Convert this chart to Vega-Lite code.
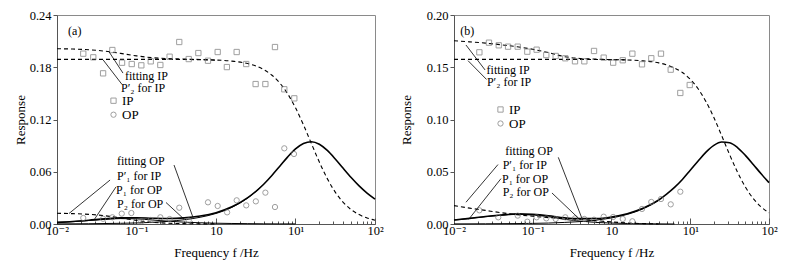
{
"$schema":"https://vega.github.io/schema/vega-lite/v6.json",
"background":"white",
"padding":{"left":13,"top":8,"right":4,"bottom":4},
"spacing":15,
"datasets":{
"ca":[
{"c":"fitIP","f":0.01,"r":0.2013},{"c":"fitIP","f":0.0158,"r":0.2009},{"c":"fitIP","f":0.0251,"r":0.2001},{"c":"fitIP","f":0.0398,"r":0.1985},{"c":"fitIP","f":0.0631,"r":0.1959},{"c":"fitIP","f":0.1,"r":0.1931},{"c":"fitIP","f":0.158,"r":0.191},{"c":"fitIP","f":0.251,"r":0.1899},{"c":"fitIP","f":0.398,"r":0.1894},{"c":"fitIP","f":0.631,"r":0.1889},{"c":"fitIP","f":1,"r":0.1883},{"c":"fitIP","f":1.585,"r":0.187},{"c":"fitIP","f":2.512,"r":0.1842},{"c":"fitIP","f":3.981,"r":0.1773},{"c":"fitIP","f":5.012,"r":0.1711},{"c":"fitIP","f":6.31,"r":0.1621},{"c":"fitIP","f":7.943,"r":0.1497},{"c":"fitIP","f":10,"r":0.1334},{"c":"fitIP","f":12.59,"r":0.1139},{"c":"fitIP","f":15.85,"r":0.0924},{"c":"fitIP","f":19.95,"r":0.0711},{"c":"fitIP","f":25.12,"r":0.0521},{"c":"fitIP","f":31.62,"r":0.0366},{"c":"fitIP","f":39.81,"r":0.0249},{"c":"fitIP","f":50.12,"r":0.0165},{"c":"fitIP","f":63.1,"r":0.0108},{"c":"fitIP","f":79.43,"r":0.0069},{"c":"fitIP","f":100,"r":0.0044},
{"c":"P2IP","f":0.01,"r":0.189},{"c":"P2IP","f":0.1,"r":0.189},{"c":"P2IP","f":0.251,"r":0.189},{"c":"P2IP","f":0.631,"r":0.1887},{"c":"P2IP","f":1,"r":0.1882},
{"c":"P1IP","f":0.01,"r":0.0123},{"c":"P1IP","f":0.0158,"r":0.0119},{"c":"P1IP","f":0.0251,"r":0.0111},{"c":"P1IP","f":0.0398,"r":0.0095},{"c":"P1IP","f":0.0631,"r":0.0069},{"c":"P1IP","f":0.1,"r":0.0041},{"c":"P1IP","f":0.158,"r":0.002},{"c":"P1IP","f":0.251,"r":0.0009},{"c":"P1IP","f":0.398,"r":0.0004},{"c":"P1IP","f":0.631,"r":0.0002},{"c":"P1IP","f":1,"r":0.0001},
{"c":"fitOP","f":0.01,"r":0.0019},{"c":"fitOP","f":0.0158,"r":0.0029},{"c":"fitOP","f":0.0251,"r":0.0043},{"c":"fitOP","f":0.0398,"r":0.0059},{"c":"fitOP","f":0.0631,"r":0.007},{"c":"fitOP","f":0.1,"r":0.0071},{"c":"fitOP","f":0.158,"r":0.0066},{"c":"fitOP","f":0.251,"r":0.0063},{"c":"fitOP","f":0.398,"r":0.007},{"c":"fitOP","f":0.631,"r":0.0091},{"c":"fitOP","f":1,"r":0.013},{"c":"fitOP","f":1.585,"r":0.0197},{"c":"fitOP","f":2.512,"r":0.0302},{"c":"fitOP","f":3.981,"r":0.0457},{"c":"fitOP","f":5.012,"r":0.0555},{"c":"fitOP","f":6.31,"r":0.0661},{"c":"fitOP","f":7.943,"r":0.0768},{"c":"fitOP","f":10,"r":0.0862},{"c":"fitOP","f":12.59,"r":0.0925},{"c":"fitOP","f":15.85,"r":0.0945},{"c":"fitOP","f":19.95,"r":0.0916},{"c":"fitOP","f":25.12,"r":0.0845},{"c":"fitOP","f":31.62,"r":0.0747},{"c":"fitOP","f":39.81,"r":0.0639},{"c":"fitOP","f":50.12,"r":0.0534},{"c":"fitOP","f":63.1,"r":0.0438},{"c":"fitOP","f":79.43,"r":0.0355},{"c":"fitOP","f":100,"r":0.0286},
{"c":"P1OP","f":0.01,"r":0.0018},{"c":"P1OP","f":0.0158,"r":0.0027},{"c":"P1OP","f":0.0251,"r":0.004},{"c":"P1OP","f":0.0398,"r":0.0054},{"c":"P1OP","f":0.0631,"r":0.0062},{"c":"P1OP","f":0.1,"r":0.0059},{"c":"P1OP","f":0.158,"r":0.0046},{"c":"P1OP","f":0.251,"r":0.0032},{"c":"P1OP","f":0.398,"r":0.0021},{"c":"P1OP","f":0.631,"r":0.0014},{"c":"P1OP","f":1,"r":0.0009},{"c":"P1OP","f":1.585,"r":0.0006},{"c":"P1OP","f":2.512,"r":0.0004},{"c":"P1OP","f":3.981,"r":0.0002},{"c":"P1OP","f":6.31,"r":0.0001},{"c":"P1OP","f":10,"r":0.0001},
{"c":"P2OP","f":0.01,"r":0.0001},{"c":"P2OP","f":0.0251,"r":0.0003},{"c":"P2OP","f":0.0631,"r":0.0008},{"c":"P2OP","f":0.1,"r":0.0012},{"c":"P2OP","f":0.158,"r":0.0019},{"c":"P2OP","f":0.251,"r":0.0031},{"c":"P2OP","f":0.398,"r":0.0049},{"c":"P2OP","f":0.631,"r":0.0077},{"c":"P2OP","f":1,"r":0.0121},{"c":"P2OP","f":1.585,"r":0.0191},{"c":"P2OP","f":2.512,"r":0.0299},{"c":"P2OP","f":3.981,"r":0.0455}
],
"cb":[
{"c":"fitIP","f":0.01,"r":0.1754},{"c":"fitIP","f":0.0158,"r":0.1743},{"c":"fitIP","f":0.0251,"r":0.1731},{"c":"fitIP","f":0.0398,"r":0.1715},{"c":"fitIP","f":0.0631,"r":0.1696},{"c":"fitIP","f":0.1,"r":0.1672},{"c":"fitIP","f":0.158,"r":0.164},{"c":"fitIP","f":0.251,"r":0.1602},{"c":"fitIP","f":0.398,"r":0.1584},{"c":"fitIP","f":0.631,"r":0.1578},{"c":"fitIP","f":1,"r":0.1573},{"c":"fitIP","f":1.585,"r":0.157},{"c":"fitIP","f":2.512,"r":0.1561},{"c":"fitIP","f":3.981,"r":0.1542},{"c":"fitIP","f":5.012,"r":0.1523},{"c":"fitIP","f":6.31,"r":0.1493},{"c":"fitIP","f":7.943,"r":0.145},{"c":"fitIP","f":10,"r":0.1385},{"c":"fitIP","f":12.59,"r":0.1294},{"c":"fitIP","f":15.85,"r":0.1171},{"c":"fitIP","f":19.95,"r":0.1019},{"c":"fitIP","f":25.12,"r":0.0844},{"c":"fitIP","f":31.62,"r":0.0664},{"c":"fitIP","f":39.81,"r":0.0496},{"c":"fitIP","f":50.12,"r":0.0354},{"c":"fitIP","f":63.1,"r":0.0244},{"c":"fitIP","f":79.43,"r":0.0163},{"c":"fitIP","f":100,"r":0.0107},
{"c":"P2IP","f":0.01,"r":0.1575},{"c":"P2IP","f":0.1,"r":0.1575},{"c":"P2IP","f":0.398,"r":0.1575},{"c":"P2IP","f":1,"r":0.1573},{"c":"P2IP","f":1.585,"r":0.157},
{"c":"P1IP","f":0.01,"r":0.0176},{"c":"P1IP","f":0.0158,"r":0.0152},{"c":"P1IP","f":0.0251,"r":0.013},{"c":"P1IP","f":0.0398,"r":0.0108},{"c":"P1IP","f":0.0631,"r":0.0089},{"c":"P1IP","f":0.1,"r":0.0074},{"c":"P1IP","f":0.158,"r":0.0061},{"c":"P1IP","f":0.251,"r":0.0052},{"c":"P1IP","f":0.398,"r":0.0045},{"c":"P1IP","f":0.631,"r":0.0032},{"c":"P1IP","f":1,"r":0.002},{"c":"P1IP","f":1.585,"r":0.001},{"c":"P1IP","f":2.512,"r":0.0004},{"c":"P1IP","f":3.981,"r":0.0001},
{"c":"fitOP","f":0.01,"r":0.0038},{"c":"fitOP","f":0.0158,"r":0.0054},{"c":"fitOP","f":0.0251,"r":0.0072},{"c":"fitOP","f":0.0398,"r":0.0086},{"c":"fitOP","f":0.0631,"r":0.0097},{"c":"fitOP","f":0.1,"r":0.0092},{"c":"fitOP","f":0.158,"r":0.0079},{"c":"fitOP","f":0.251,"r":0.006},{"c":"fitOP","f":0.398,"r":0.0051},{"c":"fitOP","f":0.631,"r":0.0052},{"c":"fitOP","f":1,"r":0.0067},{"c":"fitOP","f":1.585,"r":0.0099},{"c":"fitOP","f":2.512,"r":0.015},{"c":"fitOP","f":3.981,"r":0.023},{"c":"fitOP","f":5.012,"r":0.0286},{"c":"fitOP","f":6.31,"r":0.035},{"c":"fitOP","f":7.943,"r":0.0426},{"c":"fitOP","f":10,"r":0.0514},{"c":"fitOP","f":12.59,"r":0.0603},{"c":"fitOP","f":15.85,"r":0.0688},{"c":"fitOP","f":19.95,"r":0.0753},{"c":"fitOP","f":25.12,"r":0.0785},{"c":"fitOP","f":31.62,"r":0.0778},{"c":"fitOP","f":39.81,"r":0.0732},{"c":"fitOP","f":50.12,"r":0.0657},{"c":"fitOP","f":63.1,"r":0.057},{"c":"fitOP","f":79.43,"r":0.048},{"c":"fitOP","f":100,"r":0.0396},
{"c":"P1OP","f":0.01,"r":0.0037},{"c":"P1OP","f":0.0158,"r":0.0053},{"c":"P1OP","f":0.0251,"r":0.007},{"c":"P1OP","f":0.0398,"r":0.0084},{"c":"P1OP","f":0.0631,"r":0.0093},{"c":"P1OP","f":0.1,"r":0.0086},{"c":"P1OP","f":0.158,"r":0.007},{"c":"P1OP","f":0.251,"r":0.0045},{"c":"P1OP","f":0.398,"r":0.0028},{"c":"P1OP","f":0.631,"r":0.0015},{"c":"P1OP","f":1,"r":0.0009},{"c":"P1OP","f":1.585,"r":0.0005},{"c":"P1OP","f":2.512,"r":0.0003},{"c":"P1OP","f":3.981,"r":0.0001},{"c":"P1OP","f":6.31,"r":0.0},
{"c":"P2OP","f":0.01,"r":0.0001},{"c":"P2OP","f":0.0251,"r":0.0002},{"c":"P2OP","f":0.0631,"r":0.0004},{"c":"P2OP","f":0.1,"r":0.0006},{"c":"P2OP","f":0.158,"r":0.0009},{"c":"P2OP","f":0.251,"r":0.0015},{"c":"P2OP","f":0.398,"r":0.0023},{"c":"P2OP","f":0.631,"r":0.0037},{"c":"P2OP","f":1,"r":0.0058},{"c":"P2OP","f":1.585,"r":0.0092},{"c":"P2OP","f":2.512,"r":0.0145},{"c":"P2OP","f":3.981,"r":0.0227}
],
"pa":[
{"t":"IP","f":0.0214,"r":0.1956},{"t":"IP","f":0.0286,"r":0.1914},{"t":"IP","f":0.038,"r":0.173},{"t":"IP","f":0.0497,"r":0.1998},{"t":"IP","f":0.0658,"r":0.1852},{"t":"IP","f":0.0871,"r":0.1837},{"t":"IP","f":0.115,"r":0.1822},{"t":"IP","f":0.151,"r":0.1868},{"t":"IP","f":0.1995,"r":0.1826},{"t":"IP","f":0.261,"r":0.1921},{"t":"IP","f":0.345,"r":0.209},{"t":"IP","f":0.454,"r":0.1894},{"t":"IP","f":0.6,"r":0.1963},{"t":"IP","f":0.793,"r":0.1875},{"t":"IP","f":1.05,"r":0.1975},{"t":"IP","f":1.37,"r":0.1802},{"t":"IP","f":1.82,"r":0.1975},{"t":"IP","f":2.4,"r":0.1837},{"t":"IP","f":3.15,"r":0.1607},{"t":"IP","f":4.18,"r":0.1607},{"t":"IP","f":5.52,"r":0.2032},{"t":"IP","f":7.23,"r":0.1547},{"t":"IP","f":9.66,"r":0.1443},
{"t":"OP","f":0.0214,"r":0.0069},{"t":"OP","f":0.038,"r":0.006},{"t":"OP","f":0.0497,"r":0.0077},{"t":"OP","f":0.0652,"r":0.0119},{"t":"OP","f":0.0861,"r":0.0126},{"t":"OP","f":0.115,"r":0.003},{"t":"OP","f":0.151,"r":0.0046},{"t":"OP","f":0.1995,"r":0.0077},{"t":"OP","f":0.261,"r":0.0057},{"t":"OP","f":0.345,"r":0.0187},{"t":"OP","f":0.454,"r":0.004},{"t":"OP","f":0.793,"r":0.0249},{"t":"OP","f":1.05,"r":0.0207},{"t":"OP","f":1.38,"r":0.0134},{"t":"OP","f":1.82,"r":0.0272},{"t":"OP","f":2.4,"r":0.0214},{"t":"OP","f":3.17,"r":0.026},{"t":"OP","f":4.18,"r":0.036},{"t":"OP","f":5.52,"r":0.0195},{"t":"OP","f":7.23,"r":0.0869},{"t":"OP","f":9.57,"r":0.0804}
],
"pb":[
{"t":"IP","f":0.021,"r":0.1643},{"t":"IP","f":0.0278,"r":0.1735},{"t":"IP","f":0.037,"r":0.171},{"t":"IP","f":0.0486,"r":0.1697},{"t":"IP","f":0.0644,"r":0.1697},{"t":"IP","f":0.0853,"r":0.1649},{"t":"IP","f":0.112,"r":0.1668},{"t":"IP","f":0.1486,"r":0.1617},{"t":"IP","f":0.1955,"r":0.1608},{"t":"IP","f":0.259,"r":0.1586},{"t":"IP","f":0.344,"r":0.1557},{"t":"IP","f":0.452,"r":0.1557},{"t":"IP","f":0.6,"r":0.1656},{"t":"IP","f":0.796,"r":0.1592},{"t":"IP","f":1.05,"r":0.1544},{"t":"IP","f":1.39,"r":0.1567},{"t":"IP","f":1.84,"r":0.163},{"t":"IP","f":2.44,"r":0.1528},{"t":"IP","f":3.2,"r":0.1586},{"t":"IP","f":4.25,"r":0.163},{"t":"IP","f":5.65,"r":0.1477},{"t":"IP","f":7.48,"r":0.1254},{"t":"IP","f":9.85,"r":0.133},
{"t":"OP","f":0.021,"r":0.0131},{"t":"OP","f":0.0365,"r":0.0064},{"t":"OP","f":0.0644,"r":0.008},{"t":"OP","f":0.0853,"r":0.0022},{"t":"OP","f":0.112,"r":0.0064},{"t":"OP","f":0.1486,"r":0.0054},{"t":"OP","f":0.1955,"r":0.0048},{"t":"OP","f":0.259,"r":0.0064},{"t":"OP","f":0.344,"r":0.0054},{"t":"OP","f":0.452,"r":0.0048},{"t":"OP","f":0.6,"r":0.0041},{"t":"OP","f":0.796,"r":0.007},{"t":"OP","f":1.05,"r":0.0067},{"t":"OP","f":1.39,"r":0.0048},{"t":"OP","f":1.84,"r":0.0026},{"t":"OP","f":2.44,"r":0.0144},{"t":"OP","f":3.2,"r":0.0211},{"t":"OP","f":4.25,"r":0.0239},{"t":"OP","f":5.65,"r":0.0188},{"t":"OP","f":7.48,"r":0.0309}
],
"la":[
{"f":0.0451,"r":0.1978,"f2":0.0676,"r2":0.1733},
{"f":0.0379,"r":0.1886,"f2":0.0652,"r2":0.1607},
{"f":0.01416,"r":0.01206,"f2":0.0465,"r2":0.0505},
{"f":0.0292,"r":0.0046,"f2":0.0552,"r2":0.0425},
{"f":0.235,"r":0.0247,"f2":0.395,"r2":0.0057},
{"f":0.2965,"r":0.0677,"f2":0.514,"r2":0.0075}
],
"lb":[
{"f":0.01419,"r":0.1713,"f2":0.0248,"r2":0.1474},
{"f":0.01506,"r":0.1563,"f2":0.0259,"r2":0.1383},
{"f":0.0142,"r":0.0208,"f2":0.0362,"r2":0.0569},
{"f":0.01538,"r":0.0045,"f2":0.0395,"r2":0.0434},
{"f":0.1754,"r":0.0297,"f2":0.3837,"r2":0.0053},
{"f":0.211,"r":0.0638,"f2":0.4217,"r2":0.0053}
],
"ta":[
{"s":"fitting IP","f":0.0716,"r":0.1698},
{"s":"P′₂ for IP","f":0.0638,"r":0.1566},
{"s":"fitting OP","f":0.0569,"r":0.072},
{"s":"P′₁ for IP","f":0.0569,"r":0.0555},
{"s":"P₁ for OP","f":0.0553,"r":0.039},
{"s":"P₂ for OP","f":0.0569,"r":0.0235},
{"s":"(a)","f":0.0138,"r":0.2219}
],
"tb":[
{"s":"fitting IP","f":0.0259,"r":0.147},
{"s":"P′₂ for IP","f":0.0262,"r":0.1356},
{"s":"fitting OP","f":0.0448,"r":0.0701},
{"s":"P′₁ for IP","f":0.0415,"r":0.0567},
{"s":"P₁ for OP","f":0.0407,"r":0.0431},
{"s":"P₂ for OP","f":0.0415,"r":0.0303},
{"s":"(b)","f":0.012,"r":0.185}
]
},
"hconcat":[
{
"width":318,"height":209,
"encoding":{
"x":{"field":"f","type":"quantitative","scale":{"type":"log","domain":[0.01,100],"nice":false},
"axis":{"values":[0.01,0.02,0.03,0.04,0.05,0.06,0.07,0.08,0.09,0.1,0.2,0.3,0.4,0.5,0.6,0.7,0.8,0.9,1,2,3,4,5,6,7,8,9,10,20,30,40,50,60,70,80,90,100],
"labelExpr":"datum.value==0.01?'10⁻²':datum.value==0.1?'10⁻¹':datum.value==1?'10':datum.value==10?'10¹':datum.value==100?'10²':''",
"tickSize":{"condition":{"test":"indexof([0.01,0.1,1,10,100],datum.value)>=0","value":-6},"value":-3},
"labelPadding":6,"labelOverlap":false,"labelFlush":false,"labelBound":false,"title":"Frequency      f /Hz","titlePadding":7}},
"y":{"field":"r","type":"quantitative","scale":{"domain":[0,0.24],"nice":false},
"axis":{"values":[0,0.06,0.12,0.18,0.24],"format":".2f","tickSize":4,"labelPadding":2,"title":"Response","titlePadding":2}}
},
"layer":[
{"data":{"name":"ca"},"transform":[{"filter":"datum.c=='fitIP'||datum.c=='P2IP'||datum.c=='P1IP'"}],"mark":{"type":"line","strokeDash":[4,3],"strokeWidth":1.1,"color":"#000","interpolate":"monotone"},"encoding":{"detail":{"field":"c"}}},
{"data":{"name":"ca"},"transform":[{"filter":"datum.c=='fitOP'"}],"mark":{"type":"line","strokeWidth":1.6,"color":"#000","interpolate":"monotone"},"encoding":{"detail":{"field":"c"}}},
{"data":{"name":"ca"},"transform":[{"filter":"datum.c=='P1OP'||datum.c=='P2OP'"}],"mark":{"type":"line","strokeWidth":1,"color":"#000","interpolate":"monotone"},"encoding":{"detail":{"field":"c"}}},
{"data":{"name":"pa"},"mark":{"type":"point","filled":false,"size":28,"strokeWidth":1,"color":"#777"},
"encoding":{"shape":{"field":"t","type":"nominal","scale":{"domain":["IP","OP"],"range":["square","circle"]},
"legend":{"title":null,"orient":"none","legendX":50,"legendY":80,"padding":0,"labelFontSize":13,"labelFont":"Liberation Serif, Times New Roman, DejaVu Serif, serif","labelColor":"#000","rowPadding":0,"clipHeight":11.4,"labelOffset":2,"symbolSize":28,"symbolStrokeColor":"#777","symbolStrokeWidth":1,"symbolFillColor":"transparent"}}}},
{"data":{"name":"la"},"mark":{"type":"rule","strokeWidth":0.8,"color":"#000"},"encoding":{"x2":{"field":"f2"},"y2":{"field":"r2"}}},
{"data":{"name":"ta"},"mark":{"type":"text","align":"left","baseline":"middle","fontSize":12,"font":"Liberation Serif, Times New Roman, DejaVu Serif, serif","color":"#000"},"encoding":{"text":{"field":"s"}}}
]
},
{
"width":315,"height":209,
"encoding":{
"x":{"field":"f","type":"quantitative","scale":{"type":"log","domain":[0.01,100],"nice":false},
"axis":{"values":[0.01,0.02,0.03,0.04,0.05,0.06,0.07,0.08,0.09,0.1,0.2,0.3,0.4,0.5,0.6,0.7,0.8,0.9,1,2,3,4,5,6,7,8,9,10,20,30,40,50,60,70,80,90,100],
"labelExpr":"datum.value==0.01?'10⁻²':datum.value==0.1?'10⁻¹':datum.value==1?'10':datum.value==10?'10¹':datum.value==100?'10²':''",
"tickSize":{"condition":{"test":"indexof([0.01,0.1,1,10,100],datum.value)>=0","value":-6},"value":-3},
"labelPadding":6,"labelOverlap":false,"labelFlush":false,"labelBound":false,"title":"Frequency      f /Hz","titlePadding":7}},
"y":{"field":"r","type":"quantitative","scale":{"domain":[0,0.2],"nice":false},
"axis":{"values":[0,0.05,0.1,0.15,0.2],"format":".2f","tickSize":4,"labelPadding":2,"title":"Response","titlePadding":13}}
},
"layer":[
{"data":{"name":"cb"},"transform":[{"filter":"datum.c=='fitIP'||datum.c=='P2IP'||datum.c=='P1IP'"}],"mark":{"type":"line","strokeDash":[4,3],"strokeWidth":1.1,"color":"#000","interpolate":"monotone"},"encoding":{"detail":{"field":"c"}}},
{"data":{"name":"cb"},"transform":[{"filter":"datum.c=='fitOP'"}],"mark":{"type":"line","strokeWidth":1.6,"color":"#000","interpolate":"monotone"},"encoding":{"detail":{"field":"c"}}},
{"data":{"name":"cb"},"transform":[{"filter":"datum.c=='P1OP'||datum.c=='P2OP'"}],"mark":{"type":"line","strokeWidth":1,"color":"#000","interpolate":"monotone"},"encoding":{"detail":{"field":"c"}}},
{"data":{"name":"pb"},"mark":{"type":"point","filled":false,"size":28,"strokeWidth":1,"color":"#777"},
"encoding":{"shape":{"field":"t","type":"nominal","scale":{"domain":["IP","OP"],"range":["square","circle"]},
"legend":{"title":null,"orient":"none","legendX":40,"legendY":89,"padding":0,"labelFontSize":13,"labelFont":"Liberation Serif, Times New Roman, DejaVu Serif, serif","labelColor":"#000","rowPadding":0,"clipHeight":11,"labelOffset":2,"symbolSize":28,"symbolStrokeColor":"#777","symbolStrokeWidth":1,"symbolFillColor":"transparent"}}}},
{"data":{"name":"lb"},"mark":{"type":"rule","strokeWidth":0.8,"color":"#000"},"encoding":{"x2":{"field":"f2"},"y2":{"field":"r2"}}},
{"data":{"name":"tb"},"mark":{"type":"text","align":"left","baseline":"middle","fontSize":12,"font":"Liberation Serif, Times New Roman, DejaVu Serif, serif","color":"#000"},"encoding":{"text":{"field":"s"}}}
]
}
],
"resolve":{"scale":{"shape":"independent","x":"independent","y":"independent"},"legend":{"shape":"independent"}},
"config":{
"font":"Liberation Serif, Times New Roman, DejaVu Serif, serif",
"view":{"stroke":"#8a8a8a","strokeWidth":1},
"axis":{"grid":false,"labelFont":"Liberation Serif, Times New Roman, DejaVu Serif, serif","labelFontSize":12.5,"labelColor":"#000","titleFont":"Liberation Serif, Times New Roman, DejaVu Serif, serif","titleFontSize":13,"titleFontWeight":"normal","titleColor":"#000","domainColor":"#555","tickColor":"#555"}
}
}
